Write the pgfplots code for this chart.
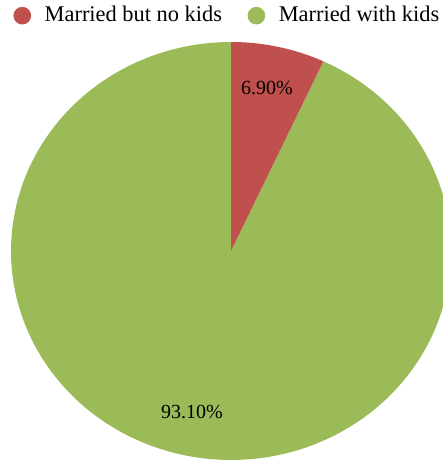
\documentclass[border=0pt]{standalone}
\usepackage{fontspec}
\setmainfont{Liberation Serif}
\usepackage{pgfplots}
\usepackage{pgfplotstable}
\pgfplotsset{compat=1.18}
\definecolor{pieRed}{RGB}{192,80,77}
\definecolor{pieGreen}{RGB}{155,187,89}
\pgfplotstableread[col sep=comma]{
label,value
Married but no kids,6.90
Married with kids,93.10
}\piedata
\pgfplotstablegetelem{0}{value}\of\piedata
\let\valA\pgfplotsretval
\pgfmathsetmacro{\angA}{90-3.6*\valA}
\pgfmathsetmacro{\angB}{90-360}
\begin{document}
\begin{tikzpicture}
\useasboundingbox (0,0) rectangle (221.5pt,233pt);
\clip (0,0) rectangle (221.5pt,233pt);
\begin{axis}[
  at={(0,0)}, anchor=south west,
  width=221.5pt, height=233pt, scale only axis,
  xmin=0, xmax=443, ymin=0, ymax=466,
  hide axis,
  legend columns=2,
  legend style={at={(axis description cs:0.516,1)}, anchor=north, draw=none, fill=none,
    font=\fontsize{11.2}{13}\selectfont, inner sep=1pt,
    /tikz/every odd column/.append style={column sep=5pt},
    /tikz/every even column/.append style={column sep=11pt}},
]
\addlegendimage{only marks, mark=*, mark size=4.2pt, color=pieRed}
\addlegendentry{Married but no kids}
\addlegendimage{only marks, mark=*, mark size=4.2pt, color=pieGreen}
\addlegendentry{Married with kids}
\addplot[draw=none, fill=pieGreen, domain=\angB:\angA, samples=200, forget plot]
  ({231+220*cos(x)}, {215+209*sin(x)}) -- (axis cs:231,215) -- cycle;
\addplot[draw=none, fill=pieRed, domain=\angA:90, samples=40, forget plot]
  ({231+220*cos(x)}, {215+209*sin(x)}) -- (axis cs:231,215) -- cycle;
\node[font=\fontsize{10}{12}\selectfont] at (axis cs:267,378) {6.90\%};
\node[font=\fontsize{10}{12}\selectfont] at (axis cs:192,54) {93.10\%};
\end{axis}
\end{tikzpicture}
\end{document}
